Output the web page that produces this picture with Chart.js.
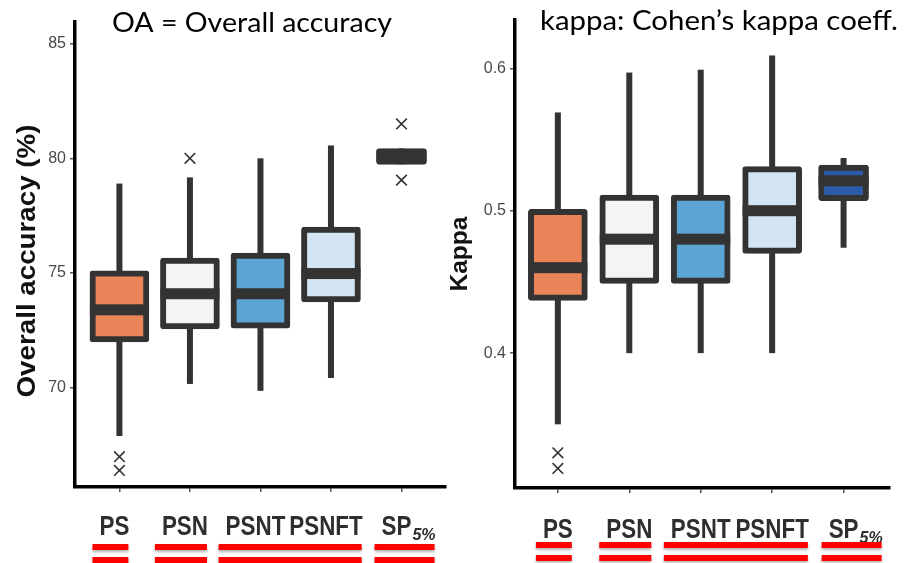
<!DOCTYPE html>
<html>
<head>
<meta charset="utf-8">
<script src="https://cdn.jsdelivr.net/npm/chart.js@4.4.1/dist/chart.umd.min.js"></script>
<style>
  html, body { margin: 0; padding: 0; background: #ffffff; width: 906px; height: 563px; overflow: hidden; }
  .panel { position: absolute; top: 0; height: 563px; }
  #leftPanel { left: 0; width: 455px; }
  #rightPanel { left: 440px; width: 466px; }
</style>
</head>
<body>
<div class="panel" id="leftPanel"><canvas id="oaChart" width="455" height="563"></canvas></div>
<div class="panel" id="rightPanel"><canvas id="kappaChart" width="466" height="563"></canvas></div>
<script>
// ---- data ----
const categories = ['PS', 'PSN', 'PSNT', 'PSNFT', 'SP'];
const labelSubscripts = ['', '', '', '', '5%'];
const underlineGroups = [[0], [1], [2, 3], [4]];

// Overall accuracy (%)
const oaMin    = [67.9, 70.17, 69.87, 70.43, 79.74];
const oaQ1     = [72.0, 72.57, 72.6, 73.74, 79.74];
const oaMedian = [73.4, 74.1, 74.1, 74.98, 80.1];
const oaQ3     = [75.1, 75.65, 75.87, 77.0, 80.43];
const oaMax    = [78.9, 79.17, 80.0, 80.56, 80.43];
const oaOutlierCats = ['PS', 'PS', 'PSN', 'SP', 'SP'];
const oaOutlierVals = [67.0, 66.4, 80.0, 81.5, 79.05];
const oaTicks = [70, 75, 80, 85];

// Cohen's kappa
const kappaMin    = [0.350, 0.400, 0.400, 0.400, 0.474];
const kappaQ1     = [0.437, 0.449, 0.449, 0.470, 0.507];
const kappaMedian = [0.460, 0.480, 0.480, 0.500, 0.521];
const kappaQ3     = [0.501, 0.511, 0.511, 0.531, 0.532];
const kappaMax    = [0.569, 0.597, 0.599, 0.609, 0.537];
const kappaOutlierCats = ['PS', 'PS'];
const kappaOutlierVals = [0.330, 0.319];
const kappaTicks = [0.4, 0.5, 0.6];

// ---- styles ----
const boxFills = ['#E98559', '#F4F4F4', '#5CA4D4', '#D3E5F2', '#2A5CAA'];
const boxWidths = [59, 59, 59, 59, 50];
const ink = '#333333';

function fitText(ctx, text, x, y, font, color, targetWidth, align) {
  ctx.save();
  ctx.font = font;
  ctx.fillStyle = color;
  ctx.textBaseline = 'alphabetic';
  ctx.textAlign = 'left';
  const w = ctx.measureText(text).width;
  const s = targetWidth ? targetWidth / w : 1;
  const drawW = w * s;
  const startX = align === 'center' ? x - drawW / 2 : x;
  ctx.translate(startX, y);
  ctx.scale(s, 1);
  ctx.fillText(text, 0, 0);
  ctx.restore();
}

function makeDecor(spec) {
  return {
    id: 'boxDecor',
    beforeDatasetsDraw(chart) {
      // whiskers, drawn behind the boxes
      const ctx = chart.ctx, ys = chart.scales.y, xs = chart.scales.x;
      ctx.save();
      ctx.fillStyle = ink;
      categories.forEach((c, i) => {
        const x = xs.getPixelForValue(i);
        const top = ys.getPixelForValue(spec.max[i]);
        const bot = ys.getPixelForValue(spec.min[i]);
        ctx.fillRect(x - 3, top, 6, bot - top);
      });
      ctx.restore();
    },
    afterDatasetsDraw(chart) {
      // median bars across each box
      const ctx = chart.ctx, ys = chart.scales.y, xs = chart.scales.x;
      ctx.save();
      ctx.fillStyle = ink;
      categories.forEach((c, i) => {
        const x = xs.getPixelForValue(i);
        const ym = ys.getPixelForValue(spec.median[i]);
        ctx.fillRect(x - boxWidths[i] / 2, ym - 5.5, boxWidths[i], 11);
      });
      ctx.restore();
    },
    afterDraw(chart) {
      const ctx = chart.ctx, xs = chart.scales.x, area = chart.chartArea;
      // panel heading
      fitText(ctx, spec.heading, spec.headingX, spec.headingY, '27px Lato, "Open Sans", sans-serif', '#000', spec.headingWidth, 'left');

      // y axis title, rotated
      ctx.save();
      ctx.translate(spec.yTitleX, spec.yTitleY);
      ctx.rotate(-Math.PI / 2);
      fitText(ctx, spec.yTitle, 0, 0, 'bold ' + spec.yTitleSize + 'px "Liberation Sans", Arial, sans-serif', '#111', spec.yTitleLength, 'center');
      ctx.restore();

      // category labels; the main text is centred on the tick, subscripts hang to the right
      const extents = [];
      const baseY = area.bottom + spec.labelOffset;
      categories.forEach((c, i) => {
        const x = xs.getPixelForValue(i);
        ctx.save();
        ctx.font = 'bold 28px "Liberation Sans", Arial, sans-serif';
        const mainW = ctx.measureText(c).width * 0.8;
        ctx.font = 'italic bold 16px "Liberation Sans", Arial, sans-serif';
        const subW = labelSubscripts[i] ? ctx.measureText(labelSubscripts[i]).width + 1 : 0;
        ctx.restore();
        const left = x - mainW / 2 + spec.labelShift;
        fitText(ctx, c, left, baseY, 'bold 28px "Liberation Sans", Arial, sans-serif', '#2e2e2e', mainW, 'left');
        if (labelSubscripts[i]) {
          fitText(ctx, labelSubscripts[i], left + mainW + 1, baseY + 5, 'italic bold 16px "Liberation Sans", Arial, sans-serif', '#2e2e2e', null, 'left');
        }
        extents.push([left, left + mainW + subW]);
      });

      // red double underlines per group
      ctx.save();
      ctx.fillStyle = '#FF0000';
      ctx.shadowColor = 'rgba(0,0,0,0.3)';
      ctx.shadowBlur = 3;
      ctx.shadowOffsetY = 2;
      underlineGroups.forEach(g => {
        const l = Math.min(...g.map(i => extents[i][0])) - 7;
        const r = Math.max(...g.map(i => extents[i][1])) - 1;
        spec.underlineYs.forEach(uy => ctx.fillRect(l, uy, r - l, 6));
      });
      ctx.restore();
    }
  };
}

function buildPanel(canvasId, spec) {
  const boxData = (wanted) => categories
    .map((c, i) => ({ x: i, y: [spec.q1[i], spec.q3[i]], w: boxWidths[i] }))
    .filter(d => d.w === wanted);
  const common = {
    type: 'bar', grouped: false,
    backgroundColor: ctx => boxFills[ctx.raw ? ctx.raw.x : 0],
    borderColor: ink, borderWidth: 6,
    borderSkipped: false, borderRadius: 3
  };
  const outliers = spec.outlierCats.map((c, k) => ({ x: categories.indexOf(c), y: spec.outlierVals[k] }));
  return new Chart(document.getElementById(canvasId), {
    data: {
      datasets: [
        Object.assign({ label: 'box', data: boxData(59), barThickness: 59 }, common),
        Object.assign({ label: 'box-narrow', data: boxData(50), barThickness: 50 }, common),
        {
          type: 'line', label: 'outliers', data: outliers, showLine: false,
          pointStyle: 'crossRot', pointRadius: 7.5, pointBorderWidth: 1.6,
          pointBorderColor: ink, borderColor: ink, backgroundColor: 'rgba(0,0,0,0)'
        }
      ]
    },
    options: {
      responsive: false,
      animation: false,
      events: [],
      layout: { padding: { top: spec.padTop, right: spec.padRight, left: 0, bottom: 0 } },
      plugins: { legend: { display: false }, tooltip: { enabled: false }, title: { display: false } },
      scales: {
        x: {
          type: 'linear',
          offset: false,
          min: spec.xMin, max: spec.xMax,
          grid: { display: true, offset: false, drawOnChartArea: false, drawTicks: true, tickLength: 5, color: '#555', lineWidth: 1.5 },
          border: { display: true, color: '#000', width: 3.5 },
          ticks: { display: false },
          afterBuildTicks(scale) { scale.ticks = categories.map((c, i) => ({ value: i })); },
          afterFit(scale) { scale.height = spec.xAxisHeight; }
        },
        y: {
          type: 'linear',
          min: spec.yMin, max: spec.yMax,
          grid: { display: true, drawOnChartArea: false, drawTicks: true, tickLength: 5, color: '#555', lineWidth: 1.5 },
          border: { display: true, color: '#000', width: 3.5 },
          ticks: {
            padding: 4, color: '#4a4a4a',
            font: { family: '"Liberation Sans", Arial, sans-serif', size: 16 },
            callback: spec.tickFormat
          },
          afterBuildTicks(scale) { scale.ticks = spec.ticks.map(v => ({ value: v })); },
          afterFit(scale) { scale.width = spec.yAxisWidth; }
        }
      }
    },
    plugins: [makeDecor(spec)]
  });
}

buildPanel('oaChart', {
  min: oaMin, q1: oaQ1, median: oaMedian, q3: oaQ3, max: oaMax,
  outlierCats: oaOutlierCats, outlierVals: oaOutlierVals,
  ticks: oaTicks, tickFormat: v => String(v),
  yMin: 65.68, yMax: 85.94, xMin: -0.63, xMax: 4.63,
  padTop: 22, padRight: 7, xAxisHeight: 76, yAxisWidth: 75,
  heading: 'OA = Overall accuracy', headingX: 112, headingY: 32, headingWidth: 280,
  yTitle: 'Overall accuracy (%)', yTitleX: 35, yTitleY: 261, yTitleSize: 25, yTitleLength: 273,
  labelOffset: 48, labelShift: -5, underlineYs: [544, 557]
});

buildPanel('kappaChart', {
  min: kappaMin, q1: kappaQ1, median: kappaMedian, q3: kappaQ3, max: kappaMax,
  outlierCats: kappaOutlierCats, outlierVals: kappaOutlierVals,
  ticks: kappaTicks, tickFormat: v => v.toFixed(1),
  yMin: 0.3053, yMax: 0.6339, xMin: -0.6, xMax: 4.65,
  padTop: 20, padRight: 16, xAxisHeight: 75, yAxisWidth: 75,
  heading: 'kappa: Cohen\u2019s kappa coeff.', headingX: 100, headingY: 30, headingWidth: 358,
  yTitle: 'Kappa', yTitleX: 27, yTitleY: 254, yTitleSize: 24, yTitleLength: 75,
  labelOffset: 50, labelShift: 0, underlineYs: [542, 555]
});
</script>
</body>
</html>
